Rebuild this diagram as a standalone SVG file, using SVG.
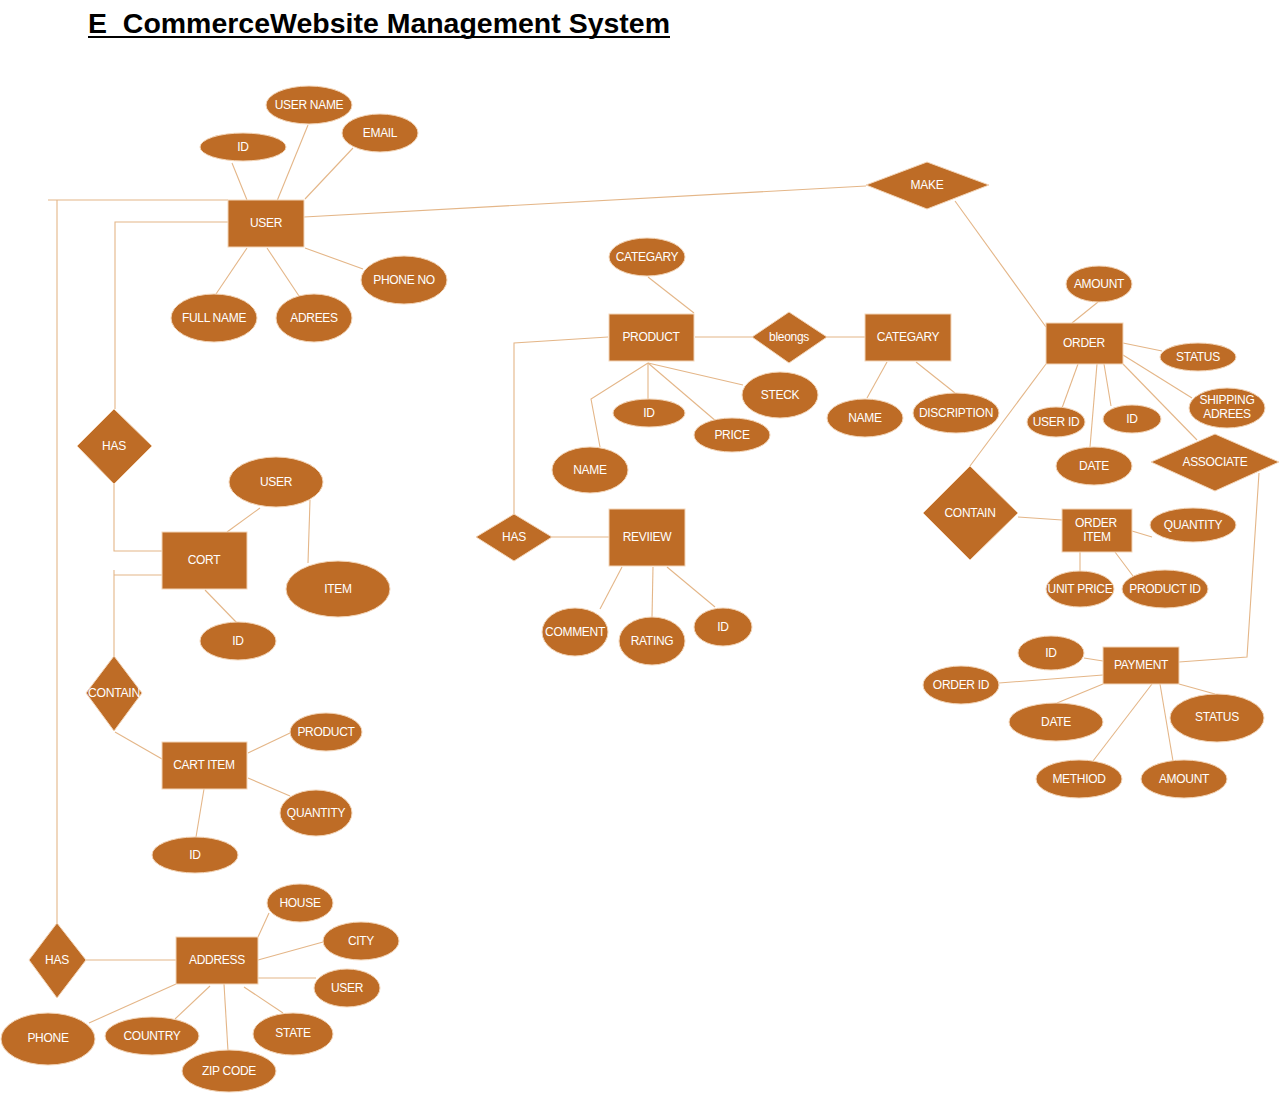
<svg xmlns="http://www.w3.org/2000/svg" width="1280" height="1094" viewBox="0 0 1280 1094">
<style>
.ent{fill:#BE6C26;stroke:#F3D5B8;stroke-width:1}
.rel{fill:#BE6C26;stroke:#F3D5B8;stroke-width:1}
.att{fill:#BE6C26;stroke:#F3D5B8;stroke-width:1}
.ln{fill:none;stroke:#E4B688;stroke-width:1.1}
.t{font-family:"Liberation Sans",Arial,sans-serif;font-size:12px;fill:#FFFFFF;text-anchor:middle;letter-spacing:-0.3px}
.title{font-family:"Liberation Sans",Arial,sans-serif;font-size:27px;font-weight:bold;fill:#000000}
</style>
<rect x="0" y="0" width="1280" height="1094" fill="#FFFFFF"/>
<g id="title">
<text class="title" x="88" y="33" textLength="582" lengthAdjust="spacingAndGlyphs" xml:space="preserve">E  CommerceWebsite Management System</text>
<line x1="88" y1="37" x2="670" y2="37" stroke="#000000" stroke-width="2"/>
</g>
<g id="connectors">
<polyline class="ln" points="48,200 228,200"/>
<polyline class="ln" points="57,200 57,923"/>
<polyline class="ln" points="115,409 115,222 228,222"/>
<polyline class="ln" points="114,484 114,551 162,551"/>
<polyline class="ln" points="114,656 114,570"/>
<polyline class="ln" points="114,575 162,575"/>
<polyline class="ln" points="115,732 162,759"/>
<polyline class="ln" points="86,960 176,960"/>
<polyline class="ln" points="232,163 247,200"/>
<polyline class="ln" points="308,125 277,201"/>
<polyline class="ln" points="353,148 305,199"/>
<polyline class="ln" points="305,248 363,269"/>
<polyline class="ln" points="247,248 216,294"/>
<polyline class="ln" points="267,248 299,296"/>
<polyline class="ln" points="304,217 866,186"/>
<polyline class="ln" points="955,201 1046,327"/>
<polyline class="ln" points="227,532 260,508"/>
<polyline class="ln" points="310,500 308,563"/>
<polyline class="ln" points="205,590 237,623"/>
<polyline class="ln" points="248,753 290,733"/>
<polyline class="ln" points="248,778 290,796"/>
<polyline class="ln" points="204,789 196,837"/>
<polyline class="ln" points="258,937 269,913"/>
<polyline class="ln" points="258,960 323,942"/>
<polyline class="ln" points="258,978 316,978"/>
<polyline class="ln" points="244,987 283,1013"/>
<polyline class="ln" points="224,984 228,1051"/>
<polyline class="ln" points="210,986 175,1019"/>
<polyline class="ln" points="176,984 89,1023"/>
<polyline class="ln" points="648,277 694,313"/>
<polyline class="ln" points="695,337 752,337"/>
<polyline class="ln" points="827,337 865,337"/>
<polyline class="ln" points="648,363 743,385"/>
<polyline class="ln" points="648,363 648,399"/>
<polyline class="ln" points="648,363 717,422"/>
<polyline class="ln" points="648,363 591,399 600,447"/>
<polyline class="ln" points="608,337 514,343 514,514"/>
<polyline class="ln" points="887,362 867,398"/>
<polyline class="ln" points="916,362 955,393"/>
<polyline class="ln" points="552,537 609,537"/>
<polyline class="ln" points="622,567 600,609"/>
<polyline class="ln" points="653,567 652,618"/>
<polyline class="ln" points="667,567 715,607"/>
<polyline class="ln" points="1098,302 1072,323"/>
<polyline class="ln" points="1123,343 1162,351"/>
<polyline class="ln" points="1123,355 1192,398"/>
<polyline class="ln" points="1078,364 1062,408"/>
<polyline class="ln" points="1097,364 1090,447"/>
<polyline class="ln" points="1104,364 1111,406"/>
<polyline class="ln" points="1123,364 1197,440"/>
<polyline class="ln" points="1046,364 970,466"/>
<polyline class="ln" points="1259,473 1247,657 1179,662"/>
<polyline class="ln" points="1018,517 1062,520"/>
<polyline class="ln" points="1132,531 1152,537"/>
<polyline class="ln" points="1080,552 1080,572"/>
<polyline class="ln" points="1115,552 1133,576"/>
<polyline class="ln" points="1084,658 1103,661"/>
<polyline class="ln" points="999,683 1103,675"/>
<polyline class="ln" points="1103,684 1057,703"/>
<polyline class="ln" points="1179,684 1215,694"/>
<polyline class="ln" points="1152,684 1093,761"/>
<polyline class="ln" points="1160,684 1173,761"/>
</g>
<g id="user"><rect class="ent" x="228" y="200" width="76" height="47"/><text class="t" x="266" y="227">USER</text></g>
<g id="user-id"><ellipse class="att" cx="243" cy="147" rx="43" ry="14"/><text class="t" x="243" y="151">ID</text></g>
<g id="user-name"><ellipse class="att" cx="309" cy="105" rx="43" ry="19"/><text class="t" x="309" y="109">USER NAME</text></g>
<g id="user-email"><ellipse class="att" cx="380" cy="133" rx="38" ry="19"/><text class="t" x="380" y="137">EMAIL</text></g>
<g id="user-phone"><ellipse class="att" cx="404" cy="280" rx="43" ry="24"/><text class="t" x="404" y="284">PHONE NO</text></g>
<g id="user-fullname"><ellipse class="att" cx="214" cy="318" rx="43" ry="24"/><text class="t" x="214" y="322">FULL NAME</text></g>
<g id="user-adrees"><ellipse class="att" cx="314" cy="318" rx="38" ry="24"/><text class="t" x="314" y="322">ADREES</text></g>
<g id="make"><polygon class="rel" points="927,162 989,185 927,209 866,185"/><text class="t" x="927" y="189">MAKE</text></g>
<g id="has-cart"><polygon class="rel" points="114,409 152,446 114,484 77,446"/><text class="t" x="114" y="450">HAS</text></g>
<g id="cort"><rect class="ent" x="162" y="532" width="85" height="57"/><text class="t" x="204" y="564">CORT</text></g>
<g id="cort-user"><ellipse class="att" cx="276" cy="482" rx="47" ry="25"/><text class="t" x="276" y="486">USER</text></g>
<g id="cort-item"><ellipse class="att" cx="338" cy="589" rx="52" ry="28"/><text class="t" x="338" y="593">ITEM</text></g>
<g id="cort-id"><ellipse class="att" cx="238" cy="641" rx="38" ry="19"/><text class="t" x="238" y="645">ID</text></g>
<g id="contain-cart"><polygon class="rel" points="114,656 142,693 114,731 86,693"/><text class="t" x="114" y="697" textLength="52" lengthAdjust="spacingAndGlyphs">CONTAIN</text></g>
<g id="cart-item"><rect class="ent" x="162" y="742" width="85" height="47"/><text class="t" x="204" y="769">CART ITEM</text></g>
<g id="cartitem-product"><ellipse class="att" cx="326" cy="732" rx="36" ry="19"/><text class="t" x="326" y="736">PRODUCT</text></g>
<g id="cartitem-quantity"><ellipse class="att" cx="316" cy="813" rx="36" ry="23"/><text class="t" x="316" y="817">QUANTITY</text></g>
<g id="cartitem-id"><ellipse class="att" cx="195" cy="855" rx="43" ry="18"/><text class="t" x="195" y="859">ID</text></g>
<g id="has-address"><polygon class="rel" points="57,923 86,960 57,998 29,960"/><text class="t" x="57" y="964">HAS</text></g>
<g id="address"><rect class="ent" x="176" y="937" width="82" height="47"/><text class="t" x="217" y="964">ADDRESS</text></g>
<g id="address-house"><ellipse class="att" cx="300" cy="903" rx="33" ry="19"/><text class="t" x="300" y="907">HOUSE</text></g>
<g id="address-city"><ellipse class="att" cx="361" cy="941" rx="38" ry="19"/><text class="t" x="361" y="945">CITY</text></g>
<g id="address-user"><ellipse class="att" cx="347" cy="988" rx="33" ry="19"/><text class="t" x="347" y="992">USER</text></g>
<g id="address-state"><ellipse class="att" cx="293" cy="1034" rx="40" ry="21"/><text class="t" x="293" y="1037">STATE</text></g>
<g id="address-zip"><ellipse class="att" cx="229" cy="1071" rx="47" ry="21"/><text class="t" x="229" y="1075">ZIP CODE</text></g>
<g id="address-country"><ellipse class="att" cx="152" cy="1036" rx="47" ry="19"/><text class="t" x="152" y="1040">COUNTRY</text></g>
<g id="address-phone"><ellipse class="att" cx="48" cy="1039" rx="47" ry="26"/><text class="t" x="48" y="1042">PHONE</text></g>
<g id="product"><rect class="ent" x="609" y="314" width="85" height="47"/><text class="t" x="651" y="341">PRODUCT</text></g>
<g id="product-categary"><ellipse class="att" cx="647" cy="257" rx="38" ry="19"/><text class="t" x="647" y="261">CATEGARY</text></g>
<g id="product-steck"><ellipse class="att" cx="780" cy="395" rx="38" ry="23"/><text class="t" x="780" y="399">STECK</text></g>
<g id="product-id"><ellipse class="att" cx="649" cy="413" rx="36" ry="14"/><text class="t" x="649" y="417">ID</text></g>
<g id="product-price"><ellipse class="att" cx="732" cy="435" rx="38" ry="17"/><text class="t" x="732" y="439">PRICE</text></g>
<g id="product-name"><ellipse class="att" cx="590" cy="470" rx="38" ry="23"/><text class="t" x="590" y="474">NAME</text></g>
<g id="bleongs"><polygon class="rel" points="789,312 827,337 789,363 752,337"/><text class="t" x="789" y="341">bleongs</text></g>
<g id="categary"><rect class="ent" x="865" y="314" width="86" height="47"/><text class="t" x="908" y="341">CATEGARY</text></g>
<g id="categary-name"><ellipse class="att" cx="865" cy="418" rx="38" ry="19"/><text class="t" x="865" y="422">NAME</text></g>
<g id="categary-discription"><ellipse class="att" cx="956" cy="413" rx="43" ry="20"/><text class="t" x="956" y="417">DISCRIPTION</text></g>
<g id="has-review"><polygon class="rel" points="514,514 552,537 514,561 476,537"/><text class="t" x="514" y="541">HAS</text></g>
<g id="review"><rect class="ent" x="609" y="509" width="76" height="57"/><text class="t" x="647" y="541">REVIIEW</text></g>
<g id="review-comment"><ellipse class="att" cx="575" cy="632" rx="33" ry="24"/><text class="t" x="575" y="636">COMMENT</text></g>
<g id="review-rating"><ellipse class="att" cx="652" cy="641" rx="33" ry="24"/><text class="t" x="652" y="645">RATING</text></g>
<g id="review-id"><ellipse class="att" cx="723" cy="627" rx="29" ry="19"/><text class="t" x="723" y="631">ID</text></g>
<g id="order"><rect class="ent" x="1046" y="323" width="77" height="41"/><text class="t" x="1084" y="347">ORDER</text></g>
<g id="order-amount"><ellipse class="att" cx="1099" cy="284" rx="33" ry="18"/><text class="t" x="1099" y="288">AMOUNT</text></g>
<g id="order-status"><ellipse class="att" cx="1198" cy="357" rx="38" ry="14"/><text class="t" x="1198" y="361">STATUS</text></g>
<g id="order-shipping"><ellipse class="att" cx="1227" cy="408" rx="38" ry="20"/><text class="t" x="1227" y="404">SHIPPING</text><text class="t" x="1227" y="418">ADREES</text></g>
<g id="order-userid"><ellipse class="att" cx="1056" cy="422" rx="29" ry="15"/><text class="t" x="1056" y="426">USER ID</text></g>
<g id="order-id"><ellipse class="att" cx="1132" cy="419" rx="29" ry="14"/><text class="t" x="1132" y="423">ID</text></g>
<g id="order-date"><ellipse class="att" cx="1094" cy="466" rx="38" ry="19"/><text class="t" x="1094" y="470">DATE</text></g>
<g id="associate"><polygon class="rel" points="1215,434 1279,462 1215,491 1151,462"/><text class="t" x="1215" y="466">ASSOCIATE</text></g>
<g id="contain-order"><polygon class="rel" points="970,466 1018,513 970,560 923,513"/><text class="t" x="970" y="517">CONTAIN</text></g>
<g id="order-item"><rect class="ent" x="1062" y="509" width="70" height="43"/><text class="t" x="1096" y="527">ORDER</text><text class="t" x="1097" y="541">ITEM</text></g>
<g id="orderitem-quantity"><ellipse class="att" cx="1193" cy="525" rx="43" ry="17"/><text class="t" x="1193" y="529">QUANTITY</text></g>
<g id="orderitem-unitprice"><ellipse class="att" cx="1080" cy="589" rx="34" ry="18"/><text class="t" x="1080" y="593">UNIT PRICE</text></g>
<g id="orderitem-productid"><ellipse class="att" cx="1165" cy="589" rx="43" ry="19"/><text class="t" x="1165" y="593">PRODUCT ID</text></g>
<g id="payment"><rect class="ent" x="1103" y="647" width="76" height="37"/><text class="t" x="1141" y="669">PAYMENT</text></g>
<g id="payment-id"><ellipse class="att" cx="1051" cy="653" rx="33" ry="17"/><text class="t" x="1051" y="657">ID</text></g>
<g id="payment-orderid"><ellipse class="att" cx="961" cy="685" rx="38" ry="19"/><text class="t" x="961" y="689">ORDER ID</text></g>
<g id="payment-date"><ellipse class="att" cx="1056" cy="722" rx="47" ry="19"/><text class="t" x="1056" y="726">DATE</text></g>
<g id="payment-status"><ellipse class="att" cx="1217" cy="718" rx="47" ry="24"/><text class="t" x="1217" y="721">STATUS</text></g>
<g id="payment-method"><ellipse class="att" cx="1079" cy="779" rx="43" ry="19"/><text class="t" x="1079" y="783">METHIOD</text></g>
<g id="payment-amount"><ellipse class="att" cx="1184" cy="779" rx="43" ry="19"/><text class="t" x="1184" y="783">AMOUNT</text></g>
</svg>
